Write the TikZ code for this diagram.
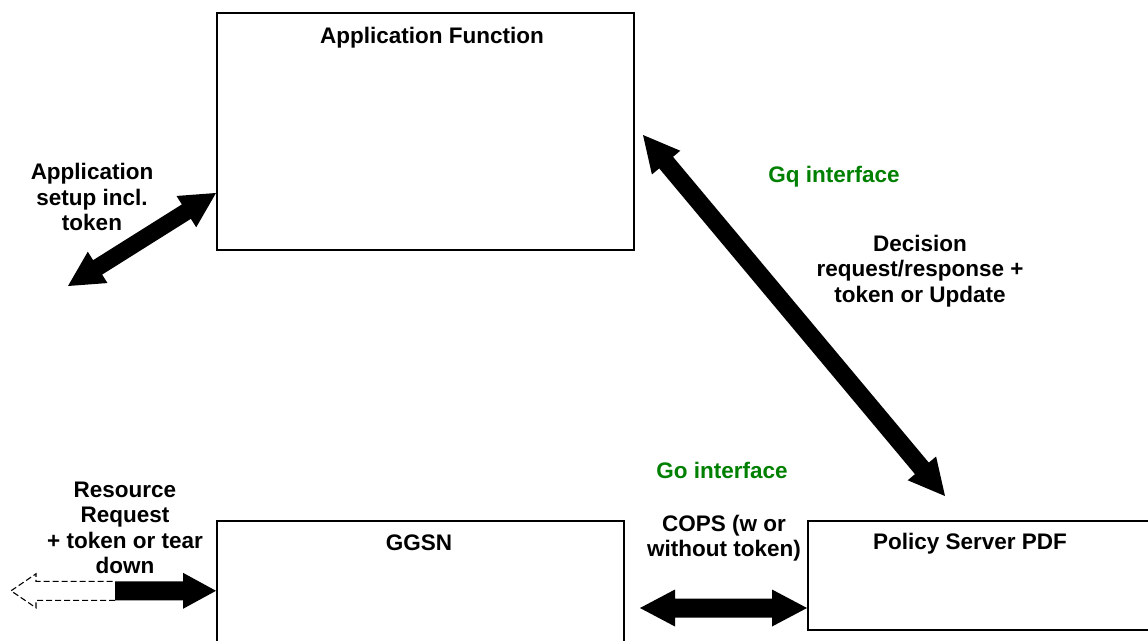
\documentclass[tikz,border=0pt]{standalone}
\usepackage{fontspec}
\setmainfont{Liberation Sans}
\usetikzlibrary{calc}
\definecolor{ifgreen}{RGB}{0,128,0}
\newcommand\fatdouble[5]{%
  \coordinate (hA) at ($(#1)!#4!(#2)$);
  \coordinate (hB) at ($(#2)!#4!(#1)$);
  \fill (#1) -- ($(hA)!#5!90:(#2)$) -- ($(hA)!#3!90:(#2)$) -- ($(hB)!#3!-90:(#1)$)
    -- ($(hB)!#5!-90:(#1)$) -- (#2) -- ($(hB)!#5!90:(#1)$) -- ($(hB)!#3!90:(#1)$)
    -- ($(hA)!#3!-90:(#2)$) -- ($(hA)!#5!-90:(#2)$) -- cycle;
}
\begin{document}
\begin{tikzpicture}[x=1pt,y=-1pt,
  box/.style={draw,line width=1.6pt,fill=white,anchor=north west,inner sep=0pt},
  lbl/.style={font=\fontsize{22.5}{25.5}\selectfont\bfseries,align=center,inner sep=0pt},
  green/.style={lbl,text=ifgreen}]
\useasboundingbox (0,0) rectangle (1148,640);
\clip (0,0) rectangle (1148,640);
\fill[white] (0,0) rectangle (1148,640);
% boxes
\node[box,minimum width=417pt,minimum height=237pt] (af) at (216,12) {};
\node[box,minimum width=407pt,minimum height=140pt] (ggsn) at (216,520) {};
\node[box,minimum width=360pt,minimum height=109pt] (pdf) at (807,520) {};
% box titles
\node[lbl,anchor=base] (aft) at (432,43) {Application Function};
\node[lbl,anchor=base] (ggsnt) at (419,550) {GGSN};
\node[lbl,anchor=base] (pdft) at (970,549) {Policy Server PDF};
% labels
\node[lbl] (appl) at (92,197) {Application\\setup incl.\\token};
\node[green,anchor=base] (gq) at (834,182) {Gq interface};
\node[lbl] (dec) at (920,271) {Decision\\request/response +\\token or Update};
\node[green,anchor=base] (go) at (722,478) {Go interface};
\node[lbl] (cops) at (724,538) {COPS (w or\\without token)};
\node[lbl] (res) at (125,528) {Resource\\Request\\+ token or tear\\down};
% connector end points
\coordinate (appFree) at (68,286);
\coordinate (appTip) at (af.west |- 0,193);
\coordinate (gqTop) at (643,135);
\coordinate (gqBot) at (945,496);
\coordinate (copsL) at (640,608);
\coordinate (copsR) at (pdf.west |- 0,608);
\coordinate (resTip) at (ggsn.west);
% fat arrows
\fatdouble{appFree}{appTip}{8.5pt}{35pt}{18.5pt}
\fatdouble{gqTop}{gqBot}{9pt}{36pt}{18.5pt}
\fatdouble{copsL}{copsR}{9.5pt}{35pt}{18.5pt}
% resource request arrow: dashed outline part and solid part
\draw[line width=1.1pt,dash pattern=on 6pt off 3pt]
  ([xshift=-101pt,yshift=-9.5pt]resTip) -- ([xshift=-180pt,yshift=-9.5pt]resTip)
  -- ([xshift=-180pt,yshift=-17pt]resTip) -- ([xshift=-205pt]resTip)
  -- ([xshift=-180pt,yshift=17pt]resTip) -- ([xshift=-180pt,yshift=9.5pt]resTip)
  -- ([xshift=-101pt,yshift=9.5pt]resTip);
\fill ([xshift=-101pt,yshift=-9.5pt]resTip) -- ([xshift=-33pt,yshift=-9.5pt]resTip)
  -- ([xshift=-33pt,yshift=-18pt]resTip) -- (resTip)
  -- ([xshift=-33pt,yshift=18pt]resTip) -- ([xshift=-33pt,yshift=9.5pt]resTip)
  -- ([xshift=-101pt,yshift=9.5pt]resTip) -- cycle;
\end{tikzpicture}
\end{document}
